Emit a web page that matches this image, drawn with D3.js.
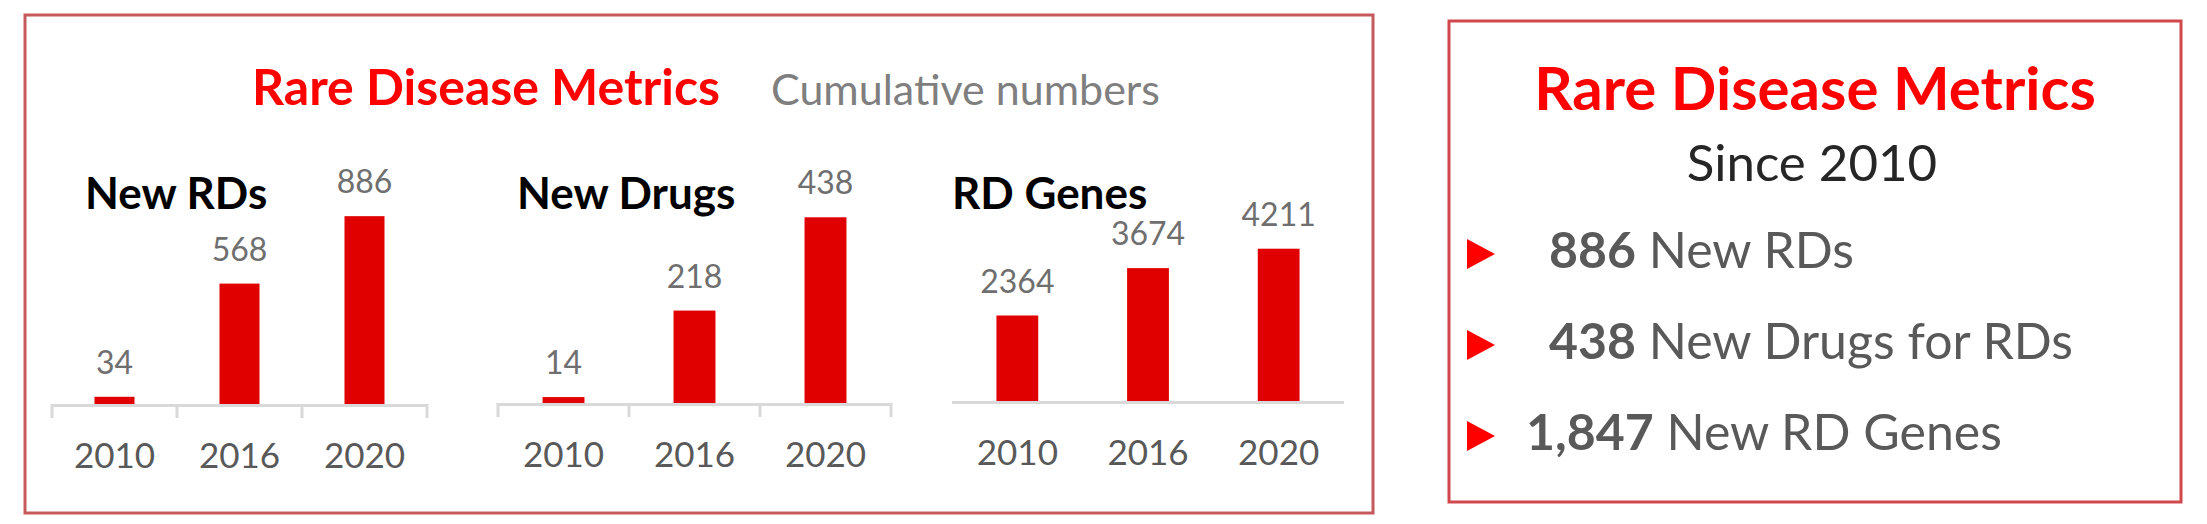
<!DOCTYPE html>
<html>
<head>
<meta charset="utf-8">
<script src="https://cdn.jsdelivr.net/npm/d3@7"></script>
<style>
  body { margin: 0; background: #fff; }
  svg { display: block; font-family: Lato, "Open Sans", sans-serif; }
</style>
</head>
<body>
<svg id="chart" width="2207" height="524"></svg>
<script>
// values
const years = ["2010", "2016", "2020"];
const newRDs = [34, 568, 886];
const newDrugs = [14, 218, 438];
const rdGenes = [2364, 3674, 4211];
const panelTitles = ["New RDs", "New Drugs", "RD Genes"];
const axisMax = [1000, 500, 6000];

const summaryNumbers = ["886", "438", "1,847"];
const summaryLabels = ["New RDs", "New Drugs for RDs", "New RD Genes"];

const svg = d3.select("#chart");

const barColor = "#e00000";
const titleRed = "#ff0000";
const boxColor = "#c55a5c";
const axisColor = "#d9d9d9";

// left box
svg.append("rect")
    .attr("x", 25).attr("y", 15)
    .attr("width", 1348).attr("height", 498)
    .attr("fill", "none")
    .attr("stroke", boxColor)
    .attr("stroke-width", 3);

svg.append("text")
    .attr("x", 252).attr("y", 105)
    .attr("fill", titleRed)
    .attr("font-weight", 700)
    .attr("font-size", 50)
    .text("Rare Disease Metrics");

svg.append("text")
    .attr("x", 771).attr("y", 105)
    .attr("fill", "#7f7f7f")
    .attr("font-size", 43)
    .text("Cumulative numbers");

// the three small bar charts
const panels = [
    { values: newRDs, x0: 52, x1: 427, base: 404, top: 192, ticks: true, titleX: 85 },
    { values: newDrugs, x0: 498, x1: 891, base: 403, top: 191, ticks: true, titleX: 517 },
    { values: rdGenes, x0: 952, x1: 1344, base: 401, top: 184, ticks: false, titleX: 952 }
];

panels.forEach((p, i) => {
    const g = svg.append("g").attr("class", "panel");

    const x = d3.scaleBand()
        .domain(years)
        .range([p.x0, p.x1])
        .paddingInner(0.68)
        .paddingOuter(0.34);

    const y = d3.scaleLinear()
        .domain([0, axisMax[i]])
        .range([p.base, p.top]);

    g.append("text")
        .attr("x", p.titleX).attr("y", 209)
        .attr("font-weight", 700)
        .attr("font-size", 44)
        .attr("fill", "#000")
        .text(panelTitles[i]);

    g.selectAll("rect.bar")
        .data(p.values)
        .enter()
        .append("rect")
        .attr("class", "bar")
        .attr("x", (d, j) => x(years[j]))
        .attr("y", d => y(d))
        .attr("width", x.bandwidth())
        .attr("height", d => y(0) - y(d))
        .attr("fill", barColor);

    g.selectAll("text.value")
        .data(p.values)
        .enter()
        .append("text")
        .attr("class", "value")
        .attr("x", (d, j) => x(years[j]) + x.bandwidth() / 2)
        .attr("y", d => y(d) - 23)
        .attr("text-anchor", "middle")
        .attr("font-size", 32)
        .attr("fill", "#6f6f6f")
        .text(d => d);

    // category axis: line plus boundary ticks like the spreadsheet chart
    g.append("line")
        .attr("x1", p.x0).attr("x2", p.x1)
        .attr("y1", p.base + 1.5).attr("y2", p.base + 1.5)
        .attr("stroke", axisColor)
        .attr("stroke-width", 3);

    if (p.ticks) {
        g.selectAll("line.tick")
            .data(d3.range(years.length + 1))
            .enter()
            .append("line")
            .attr("class", "tick")
            .attr("x1", k => p.x0 + k * x.step())
            .attr("x2", k => p.x0 + k * x.step())
            .attr("y1", p.base)
            .attr("y2", p.base + 14)
            .attr("stroke", axisColor)
            .attr("stroke-width", 3);
    }

    const axis = g.append("g")
        .attr("transform", `translate(0,${p.base})`)
        .call(d3.axisBottom(x).tickSize(0).tickPadding(39));
    axis.select(".domain").remove();
    axis.selectAll("text")
        .attr("font-family", "Lato, 'Open Sans', sans-serif")
        .attr("font-size", 35)
        .attr("fill", "#595959");
});

// right summary box
svg.append("rect")
    .attr("x", 1449).attr("y", 21)
    .attr("width", 732).attr("height", 481)
    .attr("fill", "none")
    .attr("stroke", "#d0484c")
    .attr("stroke-width", 3);

svg.append("text")
    .attr("x", 1815).attr("y", 110)
    .attr("text-anchor", "middle")
    .attr("fill", titleRed)
    .attr("font-weight", 700)
    .attr("font-size", 60)
    .text("Rare Disease Metrics");

svg.append("text")
    .attr("x", 1812).attr("y", 181)
    .attr("text-anchor", "middle")
    .attr("fill", "#262626")
    .attr("font-size", 51)
    .text("Since 2010");

const itemY = d3.scalePoint()
    .domain(d3.range(summaryNumbers.length))
    .range([268, 450]);
const numberX = [1549, 1549, 1526];

const items = svg.selectAll("g.item")
    .data(summaryNumbers)
    .enter()
    .append("g")
    .attr("class", "item")
    .attr("transform", (d, i) => `translate(0,${itemY(i)})`);

items.append("path")
    .attr("d", "M1467,-29 L1495,-14 L1467,1 Z")
    .attr("fill", titleRed);

const line = items.append("text")
    .attr("x", (d, i) => numberX[i])
    .attr("y", 0)
    .attr("font-size", 50)
    .attr("fill", "#595959");

line.append("tspan")
    .attr("font-weight", 700)
    .text(d => d);

line.append("tspan")
    .text((d, i) => " " + summaryLabels[i]);
</script>
</body>
</html>
